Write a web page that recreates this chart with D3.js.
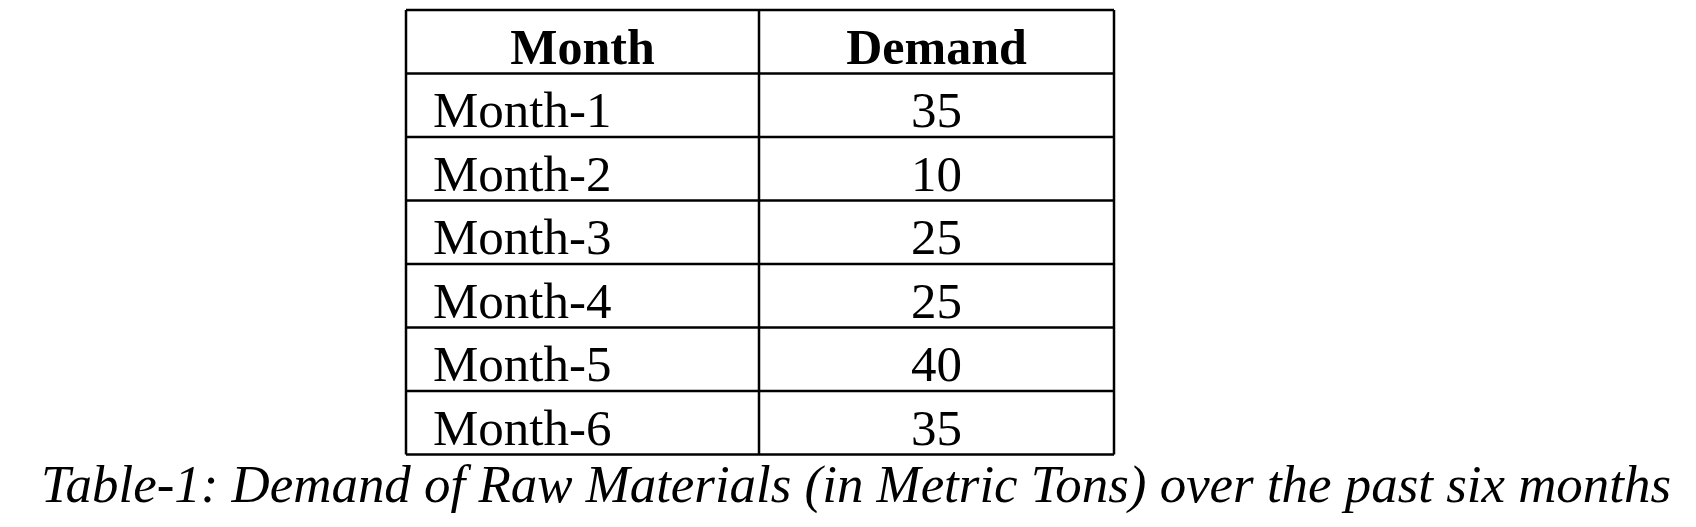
<!DOCTYPE html>
<html>
<head>
<meta charset="utf-8">
<script src="https://cdn.jsdelivr.net/npm/d3@7"></script>
<style>
  body { margin: 0; background: #fff; }
  svg { display: block; font-family: "Liberation Serif", "Times New Roman", serif; }
</style>
</head>
<body>
<svg id="tbl" width="1696" height="527"></svg>
<script>
const headers = ['Month', 'Demand'];
const months = ['Month-1', 'Month-2', 'Month-3', 'Month-4', 'Month-5', 'Month-6'];
const demand = [35, 10, 25, 25, 40, 35];
const caption = 'Table-1: Demand of Raw Materials (in Metric Tons) over the past six months';

(function () {
    const svg = d3.select('#tbl');
    const left = 406, mid = 759, right = 1114;
    const tableTop = 10, rowH = 63.5;

    const y = d3.scaleLinear()
        .domain([0, months.length + 1])
        .range([tableTop, tableTop + rowH * (months.length + 1)]);

    // table borders
    const g = svg.append('g').attr('stroke', '#000').attr('stroke-width', 2.5);
    d3.range(months.length + 2).forEach(i => {
        g.append('line').attr('x1', left).attr('x2', right).attr('y1', y(i)).attr('y2', y(i));
    });
    [left, mid, right].forEach(x => {
        g.append('line').attr('x1', x).attr('x2', x).attr('y1', y(0)).attr('y2', y(months.length + 1));
    });

    // header
    svg.selectAll('text.head')
        .data(headers)
        .join('text')
        .attr('class', 'head')
        .attr('x', (d, i) => i === 0 ? (left + mid) / 2 : (mid + right) / 2)
        .attr('y', y(1) - 10)
        .attr('text-anchor', 'middle')
        .attr('font-weight', 'bold')
        .attr('font-size', 50)
        .text(d => d);

    // rows
    svg.selectAll('text.month')
        .data(months)
        .join('text')
        .attr('class', 'month')
        .attr('x', left + 27)
        .attr('y', (d, i) => y(i + 2) - 10)
        .attr('font-size', 51)
        .text(d => d);

    svg.selectAll('text.val')
        .data(demand)
        .join('text')
        .attr('class', 'val')
        .attr('x', (mid + right) / 2)
        .attr('y', (d, i) => y(i + 2) - 10)
        .attr('text-anchor', 'middle')
        .attr('font-size', 51)
        .text(d => d);

    // caption
    svg.append('text')
        .attr('x', 41)
        .attr('y', 502)
        .attr('font-style', 'italic')
        .attr('font-size', 52)
        .attr('textLength', 1630)
        .attr('lengthAdjust', 'spacingAndGlyphs')
        .text(caption);
})();
</script>
</body>
</html>
